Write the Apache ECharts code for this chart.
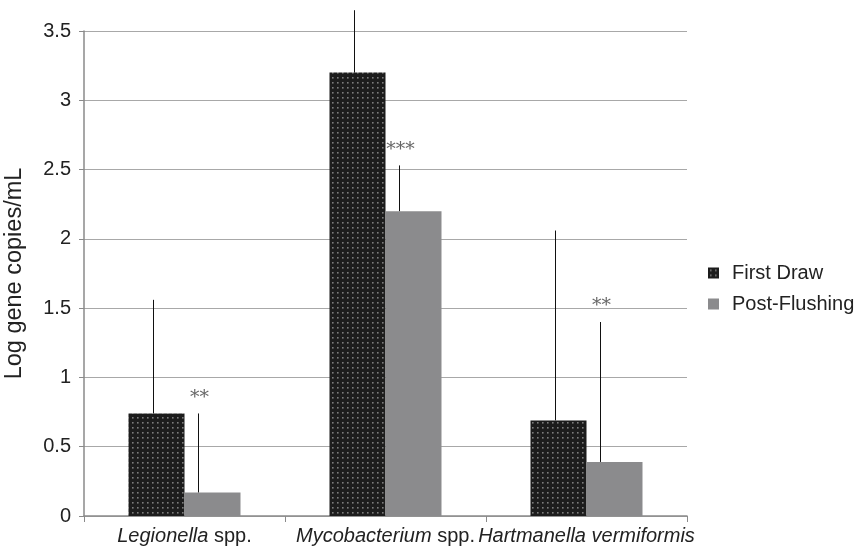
<!DOCTYPE html>
<html>
<head>
<meta charset="utf-8">
<script src="https://cdn.jsdelivr.net/npm/echarts@6/dist/echarts.min.js"></script>
<style>
  html, body { margin: 0; padding: 0; background: #fff; }
  #chart { width: 861px; height: 550px; }
</style>
</head>
<body>
<div id="chart"></div>
<script>
// Organisms on the x axis (genus in italics, suffix upright)
const genusNames = ['Legionella', 'Mycobacterium', 'Hartmanella vermiformis'];
const genusSuffix = [' spp.', ' spp.', ''];

// Mean log gene copies/mL
const firstDraw = [0.74, 3.2, 0.69];
const postFlushing = [0.17, 2.2, 0.39];

// Upper ends of the error bars
const firstDrawErrTop = [1.56, 3.65, 2.06];
const postFlushingErrTop = [0.74, 2.53, 1.40];

// Significance marks above the post-flushing error bars
const significance = ['**', '***', '**'];

const yTicks = { min: 0, max: 3.5, interval: 0.5 };

const FONT = '"Liberation Sans", Arial, sans-serif';
const BAR_W = 56;

// Dark fill with a grid of light dots for the first-draw bars
function dotPattern() {
  const c = document.createElement('canvas');
  c.width = 5; c.height = 5;
  const g = c.getContext('2d');
  g.fillStyle = '#1c1c1c';
  g.fillRect(0, 0, 5, 5);
  g.fillStyle = '#7c7c7c';
  g.fillRect(2, 2, 1.6, 1.6);
  return c;
}

const chart = echarts.init(document.getElementById('chart'), null, { renderer: 'canvas' });

function errorSeries(name, tops, bars, shift, marks) {
  return {
    type: 'custom',
    name: name + ' error',
    silent: true,
    clip: false,
    z: 5,
    data: tops.map((t, i) => [i, bars[i], t]),
    renderItem(params, api) {
      const i = api.value(0);
      const base = api.coord([i, api.value(1)]);
      const top = api.coord([i, api.value(2)]);
      const x = base[0] + shift;
      const children = [{
        type: 'line',
        shape: { x1: x, y1: base[1], x2: x, y2: top[1] },
        style: { stroke: '#111', lineWidth: 1 }
      }];
      if (marks) {
        children.push({
          type: 'text',
          style: {
            x: x + 1, y: top[1] - 6,
            text: marks[i],
            fill: '#666',
            font: '19px "DejaVu Serif", serif',
            align: 'center', verticalAlign: 'bottom'
          }
        });
      }
      return { type: 'group', children };
    }
  };
}

chart.setOption({
  animation: false,
  backgroundColor: '#fff',
  grid: { left: 84, right: 174, top: 31, bottom: 34, containLabel: false, outerBoundsMode: 'none' },
  legend: {
    orient: 'vertical',
    left: 703,
    top: 258,
    itemWidth: 11,
    itemHeight: 11,
    itemGap: 11,
    icon: 'rect',
    data: ['First Draw', 'Post-Flushing'],
    textStyle: { fontFamily: FONT, fontSize: 20, color: '#222', padding: [0, 0, 0, 8] }
  },
  xAxis: {
    type: 'category',
    data: genusNames.map((g, i) => i),
    axisLine: { lineStyle: { color: '#8a8a8a', width: 1.5 } },
    axisTick: { show: true, length: 6, alignWithLabel: false, lineStyle: { color: '#8a8a8a' } },
    axisLabel: {
      margin: 10,
      interval: 0,
      formatter: (v) => '{i|' + genusNames[v] + '}{n|' + genusSuffix[v] + '}',
      rich: {
        i: { fontFamily: FONT, fontSize: 20, fontStyle: 'italic', color: '#222' },
        n: { fontFamily: FONT, fontSize: 20, color: '#222' }
      }
    }
  },
  yAxis: {
    type: 'value',
    min: yTicks.min,
    max: yTicks.max,
    interval: yTicks.interval,
    name: 'Log gene copies/mL',
    nameLocation: 'middle',
    nameGap: 57,
    nameTextStyle: { fontFamily: FONT, fontSize: 23.5, color: '#222' },
    axisLine: { show: true, lineStyle: { color: '#8a8a8a', width: 1.5 } },
    axisTick: { show: true, length: 5, lineStyle: { color: '#8a8a8a' } },
    axisLabel: { fontFamily: FONT, fontSize: 20, color: '#222', margin: 13 },
    splitLine: { lineStyle: { color: '#a8a8a8', width: 1.2 } }
  },
  series: [
    {
      name: 'First Draw',
      type: 'bar',
      barWidth: BAR_W,
      barGap: '0%',
      data: firstDraw,
      itemStyle: { color: { image: dotPattern(), repeat: 'repeat' } }
    },
    {
      name: 'Post-Flushing',
      type: 'bar',
      barWidth: BAR_W,
      barGap: '0%',
      data: postFlushing,
      itemStyle: { color: '#8b8b8d' }
    },
    errorSeries('First Draw', firstDrawErrTop, firstDraw, -BAR_W / 2 - 3, null),
    errorSeries('Post-Flushing', postFlushingErrTop, postFlushing, BAR_W / 2 - 14, significance)
  ]
});
</script>
</body>
</html>
